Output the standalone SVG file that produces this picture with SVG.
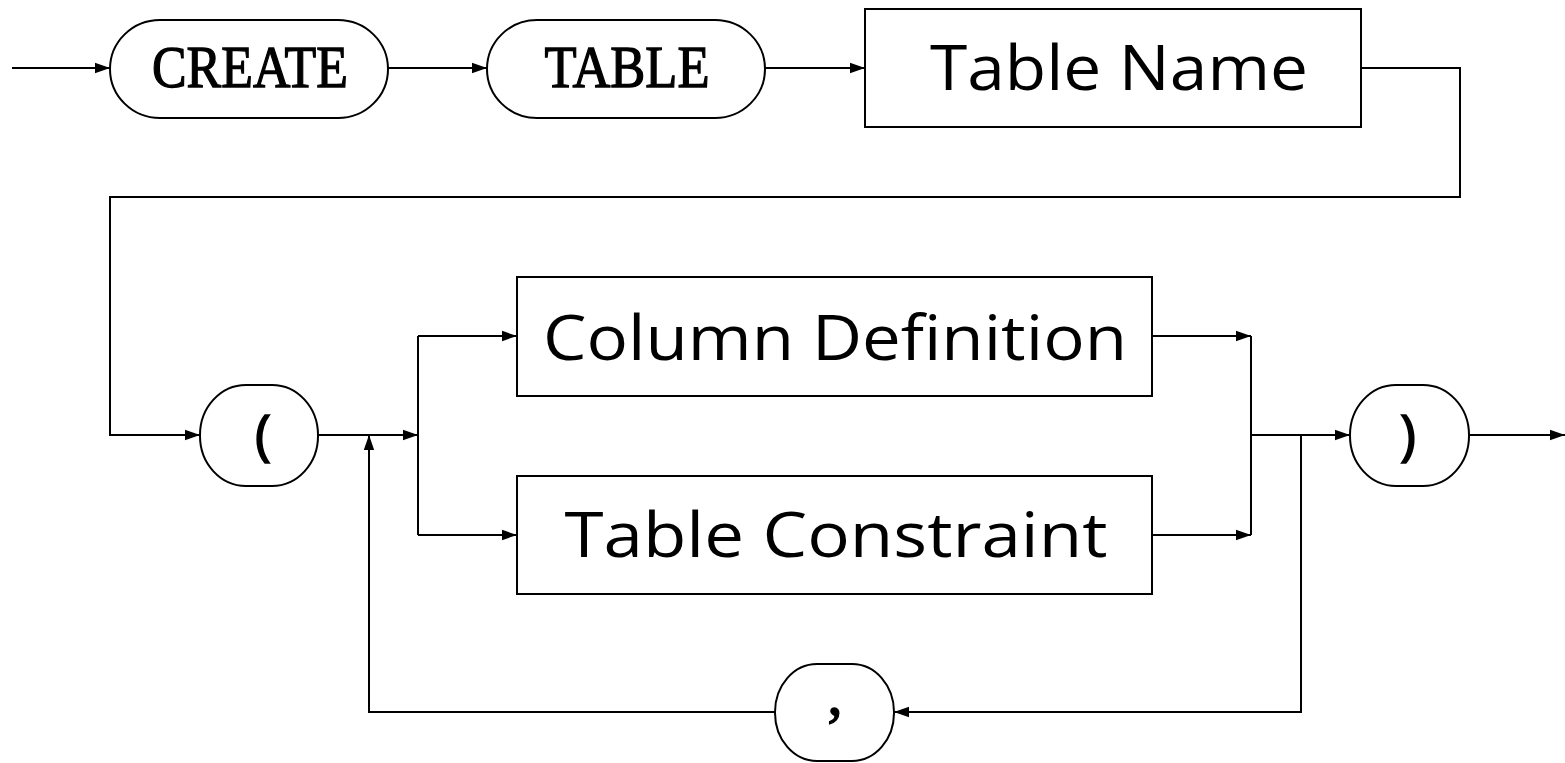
<svg xmlns="http://www.w3.org/2000/svg" width="1565" height="763" viewBox="0 0 1565 763">
  <style>
    .shape { fill: #ffffff; stroke: #000000; stroke-width: 2; }
    .conn { fill: none; stroke: #000000; stroke-width: 2; }
    .kw { font-family: "Liberation Serif", "DejaVu Serif", serif; fill: #000000; stroke: #000000; stroke-width: 1.3; }
    .sym { font-family: "Open Sans", "Liberation Sans", sans-serif; fill: #000000; stroke: #000000; stroke-width: 1.6; }
    .nt { font-family: "Open Sans", "Liberation Sans", sans-serif; fill: #000000; }
  </style>
  <defs>
    <marker id="arrow" markerUnits="userSpaceOnUse" markerWidth="15" markerHeight="12" refX="15" refY="6" orient="auto">
      <path d="M0,0.8 L15,6 L0,11.2 z" fill="#000000"/>
    </marker>
  </defs>

  <rect width="1565" height="763" fill="#ffffff"/>

  <!-- connectors -->
  <g id="connectors" class="conn">
    <path d="M12,68 H110" marker-end="url(#arrow)"/>
    <path d="M388,68 H487" marker-end="url(#arrow)"/>
    <path d="M765,68 H865" marker-end="url(#arrow)"/>
    <path d="M1361,68 H1460 V197 H110 V435 H200" marker-end="url(#arrow)"/>
    <path d="M318,435 H418" marker-end="url(#arrow)"/>
    <path d="M418,336 V535"/>
    <path d="M418,336 H517" marker-end="url(#arrow)"/>
    <path d="M418,535 H517" marker-end="url(#arrow)"/>
    <path d="M1152,336 H1251" marker-end="url(#arrow)"/>
    <path d="M1152,535 H1251" marker-end="url(#arrow)"/>
    <path d="M1251,336 V535"/>
    <path d="M1251,435 H1350" marker-end="url(#arrow)"/>
    <path d="M1469,435 H1565" marker-end="url(#arrow)"/>
    <path d="M1301,435 V712 H894" marker-end="url(#arrow)"/>
    <path d="M775,712 H369 V435" marker-end="url(#arrow)"/>
  </g>

  <!-- terminals and non-terminals -->
  <g id="create">
    <rect class="shape" x="110" y="20" width="278" height="98" rx="50" ry="49"/>
    <text class="kw" x="250" y="87" font-size="59" text-anchor="middle" textLength="196" lengthAdjust="spacingAndGlyphs">CREATE</text>
  </g>
  <g id="table">
    <rect class="shape" x="487" y="20" width="278" height="98" rx="50" ry="49"/>
    <text class="kw" x="627" y="87" font-size="59" text-anchor="middle" textLength="165" lengthAdjust="spacingAndGlyphs">TABLE</text>
  </g>
  <g id="table-name">
    <rect class="shape" x="865" y="9" width="496" height="118"/>
    <text class="nt" x="1119" y="90" font-size="62" text-anchor="middle" textLength="378" lengthAdjust="spacingAndGlyphs">Table Name</text>
  </g>
  <g id="open-paren">
    <rect class="shape" x="200" y="385" width="118" height="101" rx="46" ry="50"/>
    <text class="sym" x="263" y="454" font-size="54" text-anchor="middle">(</text>
  </g>
  <g id="column-definition">
    <rect class="shape" x="517" y="277" width="635" height="119"/>
    <text class="nt" x="835" y="360" font-size="63" text-anchor="middle" textLength="584" lengthAdjust="spacingAndGlyphs">Column Definition</text>
  </g>
  <g id="table-constraint">
    <rect class="shape" x="517" y="476" width="635" height="118"/>
    <text class="nt" x="836" y="557" font-size="63" text-anchor="middle" textLength="543" lengthAdjust="spacingAndGlyphs">Table Constraint</text>
  </g>
  <g id="close-paren">
    <rect class="shape" x="1350" y="385" width="119" height="101" rx="46" ry="50"/>
    <text class="sym" x="1408" y="454" font-size="54" text-anchor="middle">)</text>
  </g>
  <g id="comma">
    <rect class="shape" x="775" y="664" width="119" height="97" rx="42" ry="48"/>
    <text class="kw" x="835" y="714" font-size="62" text-anchor="middle">,</text>
  </g>
</svg>
